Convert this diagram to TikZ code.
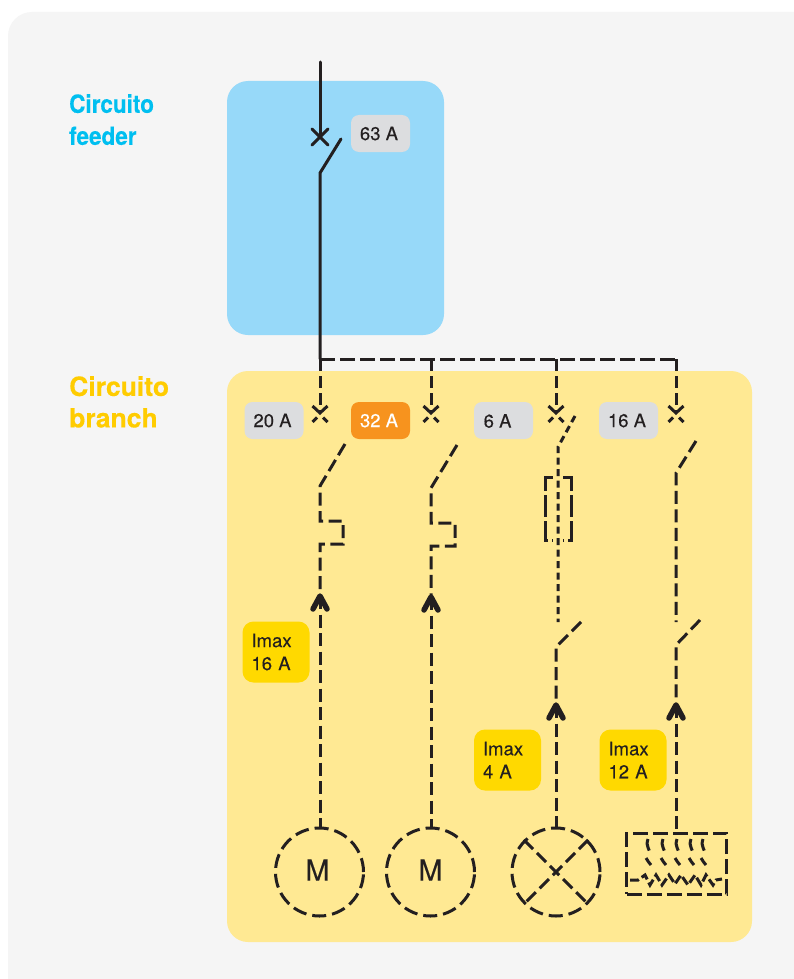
\documentclass[tikz,border=0pt]{standalone}
\usepackage{fontspec}
\setmainfont{TeX Gyre Heros}
\newfontfamily\medfont[FakeBold=0.25]{TeX Gyre Heros}
\usetikzlibrary{arrows.meta}
\definecolor{pagebg}{HTML}{F5F5F5}
\definecolor{bluepanel}{HTML}{97D9F9}
\definecolor{yellowpanel}{HTML}{FFE993}
\definecolor{tagGrey}{HTML}{DCDDDF}
\definecolor{tagOrange}{HTML}{F7931E}
\definecolor{tagYellow}{HTML}{FFD900}
\definecolor{ink}{HTML}{231F20}
\definecolor{cyantitle}{HTML}{00BFF0}
\definecolor{yellowtitle}{HTML}{FFCC00}
\newcommand{\tagtext}[1]{#1\hspace*{3pt}}
\tikzset{
  panel/.style={rounded corners=21pt,inner sep=0pt},
  tag/.style={rounded corners=8pt,inner sep=0pt,minimum width=59pt,minimum height=37pt,fill=tagGrey,text=ink,font=\medfont\fontsize{18.5}{20}\selectfont},
  imax/.style={rounded corners=11pt,inner ysep=0pt,inner xsep=9pt,text width=49pt,minimum height=61pt,fill=tagYellow,text=ink,align=left,font=\medfont\fontsize{18.5}{23}\selectfont},
  title/.style={anchor=north west,inner sep=0pt,align=left},
  solidw/.style={draw=ink,line width=3pt,line cap=round},
  dashw/.style={draw=ink,line width=3pt,dash pattern=on 13pt off 5.5pt},
  busw/.style={draw=ink,line width=3pt,dash pattern=on 15pt off 5pt},
  fine/.style={draw=ink,line width=3pt,dash pattern=on 7pt off 4.5pt},
  chev/.style={draw=ink,line width=5.5pt,line cap=round,line join=round},
  load/.style={circle,draw=ink,line width=3pt,dash pattern=on 14pt off 6pt,minimum size=88pt,inner sep=0pt,text=ink,font=\medfont\fontsize{29}{29}\selectfont},
}
\begin{document}
\begin{tikzpicture}[x=1pt,y=-1pt]
\useasboundingbox (0,0) rectangle (794,979);
\fill[white] (0,0) rectangle (794,979);
\fill[pagebg,rounded corners=24pt] (8,12) rectangle (830,1020);
\fill[bluepanel,panel] (227,81) rectangle (444,335);
\fill[yellowpanel,panel] (227,371) rectangle (752,942);

\node[title,text=cyantitle,font=\bfseries\addfontfeature{FakeBold=0.3}\fontsize{25}{32}\selectfont,xscale=0.9] (t1) at (69,94) {Circuito\\feeder};
\node[title,text=yellowtitle,font=\bfseries\addfontfeature{FakeBold=0.3}\fontsize{26.5}{31.5}\selectfont] (t2) at (69,376) {Circuito\\branch};

\node[tag] (a63) at (380.5,133.5) {\tagtext{63 A}};
\node[tag] (a20) at (274,420.5) {\tagtext{20 A}};
\node[tag,fill=tagOrange,text=white] (a32) at (380.5,420.5) {\tagtext{32 A}};
\node[tag] (a6) at (503.5,420.5) {};
\node[font=\medfont\fontsize{18.5}{20}\selectfont,text=ink,anchor=west,inner sep=0pt] (a6t) at (483.5,421) {6 A};
\node[tag] (a16) at (628.5,420.5) {\tagtext{16 A}};
\node[imax] (i1) at (276,652) {Imax\\16 A};
\node[imax] (i2) at (507.5,760) {Imax\\4 A};
\node[imax] (i3) at (633,760) {Imax\\12 A};

% coordinates
\coordinate (top) at (320,62);
\coordinate (fx) at (320,137);
\coordinate (fb) at (341,139);
\coordinate (fh) at (320,173);
\coordinate (j1) at (320,359);
\coordinate (j2) at (431,359);
\coordinate (j3) at (556,359);
\coordinate (j4) at (676,359);
\coordinate (x1) at (320,412);
\coordinate (x2) at (431,412);
\coordinate (x3) at (556,412);
\coordinate (x4) at (676,412);

% feeder
\draw[solidw] (top) -- (fx);
\draw[solidw,line join=miter] (fb) -- (fh) -- (j1);
\draw[solidw] (312,129) -- (328,145) (328,129) -- (312,145);

% bus
\draw[busw] (j1) -- (j2) -- (j3) -- (j4);
\foreach \j/\x in {j1/x1,j2/x2,j3/x3,j4/x4}{
  \draw[draw=ink,line width=3pt,dash pattern=on 12pt off 5pt] (\j) -- (\x);
}
\foreach \x in {x1,x2,x3,x4}{
  \draw[draw=ink,line width=3pt,shift={(\x)}] (-7.5,-6) -- (0,1) -- (7.5,-6) (-7.5,10) -- (-3,5.5) (7.5,10) -- (3,5.5);
}

% load nodes
\node[load] (m1) at (319.5,872) {\raisebox{4pt}{M\hspace{4pt}}};
\node[load] (m2) at (430.5,872) {\raisebox{4pt}{M}};
\node[load] (l3) at (556,872) {};
\node[draw=ink,line width=3pt,dash pattern=on 15pt off 5pt,minimum width=100pt,minimum height=61pt,inner sep=0pt] (h4) at (676.5,863.5) {};

% branch 1
\coordinate (b1a) at (345,444);
\coordinate (b1b) at (320,486);
\coordinate (arr1) at (320,596);
\draw[dashw] (b1a) -- (b1b) -- (320,521) -- (343,521) -- (343,544) -- (320,544) -- (arr1);
\draw[dashw] (arr1) -- (m1.north -| arr1);
\draw[chev] (313,609) -- (arr1) -- (327,609);

% branch 2
\coordinate (b2a) at (457,445);
\coordinate (b2b) at (431,488);
\coordinate (arr2) at (431,597);
\draw[dashw] (b2a) -- (b2b) -- (431,523) -- (455,523) -- (455,546) -- (431,546) -- (arr2);
\draw[dashw] (arr2) -- (m2.north -| arr2);
\draw[chev] (424,610) -- (arr2) -- (438,610);

% branch 3
\coordinate (b3a) at (575,416);
\coordinate (b3b) at (558,447);
\coordinate (b3c) at (558,622);
\draw[fine] (b3a) -- (b3b) -- (b3c);
\draw[draw=ink,line width=3pt,dash pattern=on 22pt off 4pt] (553,477) -- (545,477) -- (545,540) -- (553,540);
\draw[draw=ink,line width=3pt,dash pattern=on 22pt off 4pt] (563,477) -- (571,477) -- (571,540) -- (563,540);
\coordinate (s3a) at (581,622);
\coordinate (s3b) at (556,647);
\coordinate (arr3) at (556,705);
\draw[dashw] (s3a) -- (s3b) -- (arr3);
\draw[dashw] (arr3) -- (l3.north);
\draw[chev] (549,718) -- (arr3) -- (563,718);
\draw[dashw] (l3.45) -- (l3.225) (l3.135) -- (l3.315);

% branch 4
\coordinate (b4a) at (696,441);
\coordinate (b4b) at (676,473);
\coordinate (b4c) at (676,622);
\draw[dashw] (b4a) -- (b4b) -- (b4c);
\coordinate (s4a) at (700,620);
\coordinate (s4b) at (676,645);
\coordinate (arr4) at (676,705);
\draw[dashw] (s4a) -- (s4b) -- (arr4);
\draw[dashw] (arr4) -- (h4.north -| arr4);
\draw[chev] (669,718) -- (arr4) -- (683,718);

% heater
\foreach \x in {648,663,677,691,703}{
  \draw[draw=ink,line width=3pt,dash pattern=on 12pt off 5pt] (\x,839) .. controls (\x-3,847) and (\x+3,850) .. (\x+1,853) (\x-2,858) .. controls (\x,861) and (\x+1,863) .. (\x+3,865);
}
\draw[draw=ink,line width=3pt,dash pattern=on 9pt off 3.5pt] (630,880) -- (638,880) -- (645,875) -- (650,885) -- (656,875) -- (662,885) -- (669,875) -- (675,884) -- (681,875) -- (688,885) -- (695,875) -- (701,885) -- (706,875) -- (713,885) -- (716,880) -- (722,879);
\end{tikzpicture}
\end{document}
